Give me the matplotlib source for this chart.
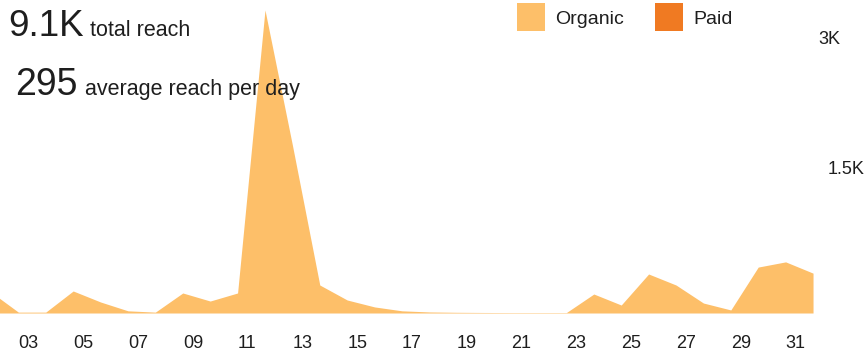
import matplotlib
matplotlib.use("Agg")
import matplotlib.pyplot as plt

# daily organic reach
days = list(range(2, 33))
organic = [242, 10, 10, 254, 127, 25, 10, 231, 138, 231, 3497, 1939, 323, 150, 70,
           25, 12, 8, 6, 5, 5, 5, 219, 92, 450, 323, 115, 35, 530, 590, 460]
tick_days = list(range(3, 32, 2))
tick_labels = [f"{d:02d}" for d in tick_days]
y_levels = [3000, 1500]
y_labels = ["3K", "1.5K"]
total_reach = "9.1K"
avg_reach = "295"

organic_color = "#fdbf69"
paid_color = "#f07a22"
text_color = "#1e1e1e"

plt.rcParams["font.family"] = ["Liberation Sans", "DejaVu Sans"]

fig = plt.figure(figsize=(8.64, 3.52), dpi=100)
ax = fig.add_axes([0, 39 / 352, 1, 313 / 352])

ax.fill_between(days, organic, 0, color=organic_color, linewidth=0)
ax.set_xlim(2.33, 33.86)
ax.set_ylim(0, 3612)

for s in ax.spines.values():
    s.set_visible(False)
ax.set_yticks([])
ax.set_xticks(tick_days)
ax.set_xticklabels(tick_labels, ha="left", fontsize=13, color=text_color)
ax.tick_params(axis="x", length=0, pad=15.5)

# right side value labels, sitting just above their level
for val, lbl, xf in zip(y_levels, y_labels, [0.947, 0.958]):
    ax.annotate(lbl, xy=(xf, val), xycoords=("axes fraction", "data"),
                xytext=(0, 5), textcoords="offset pixels",
                ha="left", va="bottom", fontsize=13, color=text_color)

# header numbers
fig.text(8 / 864, 1 - 36 / 352, total_reach, fontsize=26.5, color=text_color, va="baseline")
fig.text(90 / 864, 1 - 36 / 352, "total reach", fontsize=15.5, color=text_color, va="baseline")
fig.text(15 / 864, 1 - 95 / 352, avg_reach, fontsize=27, color=text_color, va="baseline")
fig.text(85 / 864, 1 - 95 / 352, "average reach per day", fontsize=15.5, color=text_color, va="baseline")

# legend squares
for x0, col, name in [(517, organic_color, "Organic"), (655, paid_color, "Paid")]:
    fig.patches.append(plt.Rectangle((x0 / 864, 1 - 31 / 352), 28 / 864, 28 / 352,
                                     transform=fig.transFigure, color=col, linewidth=0))
    fig.text((x0 + 38) / 864, 1 - 19 / 352, name, fontsize=14, color=text_color, va="center")

fig.savefig("out.png", dpi=100)
